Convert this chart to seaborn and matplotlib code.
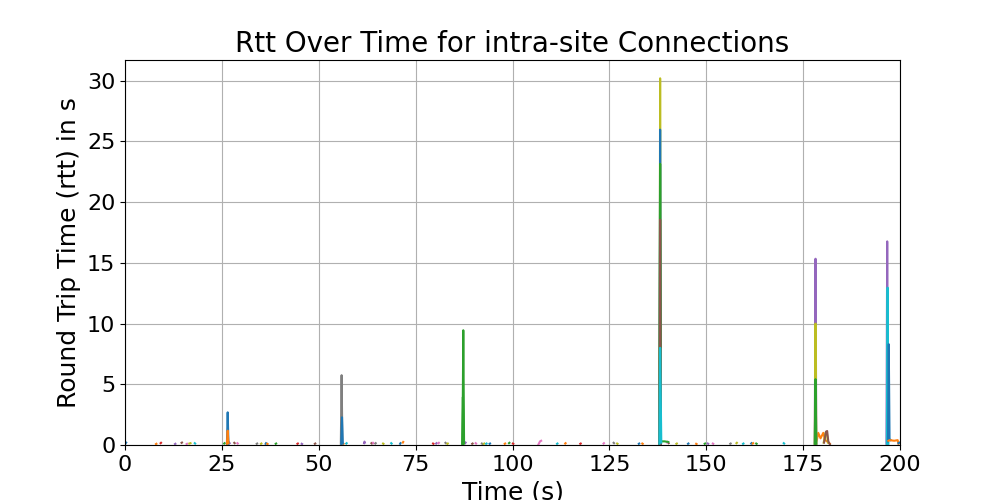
import matplotlib
matplotlib.use("Agg")
import pandas as pd
import matplotlib.pyplot as plt
import seaborn as sns

# small rtt samples of short-lived connections, grouped by line colour (time s, rtt s)
blue_time = [[0.2, 0.3], [36.3, 36.4], [71.0, 71.1], [94.1, 94.2], [132.6, 132.7], [145.3, 145.4], [161.6, 161.7]]
blue_rtt = [[0.15, 0.2], [0.1, 0.15], [0.1, 0.15], [0.1, 0.12], [0.1, 0.12], [0.1, 0.12], [0.12, 0.15]]

orange_time = [[8.0, 8.1], [36.7, 36.8], [56.2, 56.4], [71.7, 71.8], [98.0, 98.1], [113.6, 113.7],
               [133.5, 133.6], [147.4, 147.5], [162.0, 162.1]]
orange_rtt = [[0.08, 0.1], [0.1, 0.08], [0.15, 0.1], [0.2, 0.25], [0.1, 0.12], [0.12, 0.15],
              [0.12, 0.1], [0.1, 0.08], [0.12, 0.15]]

green_time = [[25.6, 25.7], [38.9, 39.0], [99.1, 99.2], [149.6, 149.7], [162.9, 163.0]]
green_rtt = [[0.12, 0.15], [0.1, 0.12], [0.15, 0.18], [0.1, 0.12], [0.12, 0.1]]

red_time = [[9.2, 9.3], [44.5, 44.6], [79.5, 79.6], [100.1, 100.2], [117.5, 117.6]]
red_rtt = [[0.15, 0.18], [0.1, 0.12], [0.12, 0.1], [0.12, 0.1], [0.1, 0.12]]

purple_time = [[12.9, 13.0], [26.9, 27.0], [45.6, 45.7], [61.7, 61.8, 61.9], [80.3, 80.4], [87.8, 87.9], [150.4, 150.5]]
purple_rtt = [[0.08, 0.1], [0.2, 0.15], [0.1, 0.08], [0.15, 0.28, 0.2], [0.12, 0.15], [0.15, 0.2], [0.12, 0.1]]

brown_time = [[14.6, 14.7], [28.2, 28.3], [49.0, 49.1], [63.6, 63.7], [89.6, 89.7], [140.2, 140.3]]
brown_rtt = [[0.18, 0.2], [0.18, 0.15], [0.1, 0.12], [0.15, 0.12], [0.1, 0.12], [0.2, 0.15]]

pink_time = [[15.9, 16.0], [29.0, 29.1], [64.0, 64.1], [80.9, 81.0], [90.5, 90.6], [106.7, 107.1, 107.4],
             [123.5, 123.6], [139.9, 140.0], [151.7, 151.8]]
pink_rtt = [[0.08, 0.1], [0.15, 0.12], [0.18, 0.15], [0.15, 0.18], [0.15, 0.12], [0.05, 0.3, 0.35],
            [0.12, 0.15], [0.2, 0.25], [0.12, 0.1]]

gray_time = [[34.0, 34.1], [64.6, 64.7], [82.7, 82.8], [92.1, 92.2], [126.1, 126.2], [156.2, 156.3]]
gray_rtt = [[0.1, 0.12], [0.12, 0.15], [0.18, 0.15], [0.12, 0.1], [0.18, 0.15], [0.1, 0.12]]

olive_time = [[16.6, 16.9], [35.1, 35.2], [66.6, 66.7], [83.2, 83.3], [92.6, 92.7], [127.0, 127.1],
              [142.3, 142.4], [157.8, 157.9]]
olive_rtt = [[0.12, 0.15], [0.1, 0.12], [0.12, 0.1], [0.1, 0.12], [0.1, 0.12], [0.12, 0.1],
             [0.1, 0.12], [0.15, 0.18]]

cyan_time = [[18.0, 18.1], [57.1, 57.2], [68.7, 68.8], [93.2, 93.3], [111.5, 111.6], [159.5, 159.6], [170.0, 170.1]]
cyan_rtt = [[0.15, 0.12], [0.12, 0.15], [0.15, 0.12], [0.1, 0.12], [0.1, 0.12], [0.1, 0.12], [0.15, 0.12]]

# connections with rtt spikes, in the order they were plotted (later ones on top)
spike_colour = ["blue", "orange", "gray", "blue", "green", "green",
                "olive", "blue", "green", "brown", "cyan",
                "orange", "olive", "brown", "purple", "olive", "green",
                "purple", "cyan", "blue", "orange", "blue"]
spike_time = [
    [26.3, 26.5, 26.7],
    [26.3, 26.5, 26.7],
    [55.7, 55.9, 56.1],
    [55.8, 56.0, 56.2],
    [87.0, 87.2, 87.4],
    [87.1, 87.3, 87.5],
    [137.9, 138.1, 138.3],
    [137.9, 138.1, 138.3],
    [137.9, 138.1, 138.3, 139.2, 140.2],
    [137.9, 138.1, 138.3],
    [137.9, 138.1, 138.4],
    [178.2, 178.6, 178.9, 179.5, 180.2, 180.7, 181.2, 181.9],
    [180.3, 180.8, 181.1, 181.4],
    [180.4, 180.9, 181.2, 181.5, 181.9],
    [178.0, 178.2, 178.4],
    [178.0, 178.2, 178.4],
    [178.0, 178.2, 178.4],
    [196.5, 196.7, 196.9],
    [196.6, 196.8, 197.0],
    [196.9, 197.1, 197.3, 197.6],
    [197.0, 197.4, 198.5, 199.4, 199.6],
    [199.6, 199.9],
]
spike_rtt = [
    [0.1, 2.69, 0.1],
    [0.1, 1.18, 0.15],
    [0.1, 5.75, 0.1],
    [0.1, 2.28, 0.15],
    [0.1, 3.95, 0.1],
    [0.1, 9.45, 0.15],
    [0.1, 30.2, 0.1],
    [0.1, 25.97, 0.1],
    [0.1, 23.15, 0.3, 0.3, 0.25],
    [0.1, 18.55, 0.1],
    [0.1, 8.0, 0.2],
    [0.1, 0.5, 1.0, 0.55, 1.0, 0.4, 0.3, 0.1],
    [0.2, 1.0, 1.05, 0.2],
    [0.2, 1.1, 1.15, 0.3, 0.05],
    [0.1, 15.34, 0.1],
    [0.1, 10.0, 0.1],
    [0.1, 5.42, 0.1],
    [0.1, 16.77, 0.1],
    [0.1, 12.96, 0.1],
    [0.3, 8.3, 0.5, 0.4],
    [0.35, 0.4, 0.35, 0.4, 0.1],
    [0.15, 0.2],
]

blips = {
    "blue": (blue_time, blue_rtt), "orange": (orange_time, orange_rtt),
    "green": (green_time, green_rtt), "red": (red_time, red_rtt),
    "purple": (purple_time, purple_rtt), "brown": (brown_time, brown_rtt),
    "pink": (pink_time, pink_rtt), "gray": (gray_time, gray_rtt),
    "olive": (olive_time, olive_rtt), "cyan": (cyan_time, cyan_rtt),
}

rows = []
palette = {}


def add_conn(colour, times, rtts):
    cid = f"conn_{len(palette):03d}"
    palette[cid] = "tab:" + colour
    for t, r in zip(times, rtts):
        rows.append((cid, t, r))


for colour, (times, rtts) in blips.items():
    for t, r in zip(times, rtts):
        add_conn(colour, t, r)
for colour, t, r in zip(spike_colour, spike_time, spike_rtt):
    add_conn(colour, t, r)

df = pd.DataFrame(rows, columns=["conn", "time", "rtt"])

fig, ax = plt.subplots(figsize=(10, 5), dpi=100)
sns.lineplot(data=df, x="time", y="rtt", hue="conn", palette=palette,
             estimator=None, legend=False, ax=ax)
ax.set_title("Rtt Over Time for intra-site Connections", fontsize=20)
ax.set_xlabel("Time (s)", fontsize=18)
ax.set_ylabel("Round Trip Time (rtt) in s", fontsize=18)
ax.tick_params(labelsize=16)
ax.set_xlim(0, 200)
ax.set_ylim(bottom=0)
ax.grid(True)
fig.savefig("out.png")
